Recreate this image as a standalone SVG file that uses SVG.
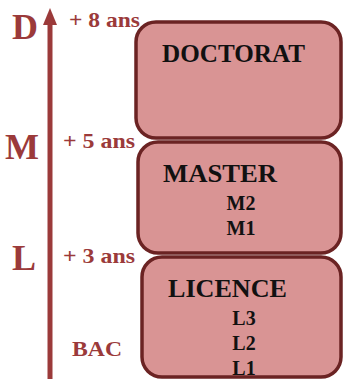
<svg xmlns="http://www.w3.org/2000/svg" width="345" height="379" viewBox="0 0 345 379">
<style>
.box{fill:#d99494;stroke:#6b2323;stroke-width:3.5}
.title{font-family:"Liberation Serif",serif;font-weight:bold;fill:#111;font-size:26px}
.sub{font-family:"Liberation Serif",serif;font-weight:bold;fill:#111;font-size:20px;text-anchor:middle}
.red{font-family:"Liberation Serif",serif;font-weight:bold;fill:#9b3a3a}
.big{font-size:36px}
.yr{font-size:22px}
</style>
<g id="axis">
<line x1="50" y1="379" x2="50" y2="22" stroke="#9b3a3a" stroke-width="5"/>
<polygon points="50,8 57,25 43,25" fill="#9b3a3a"/>
</g>
<g id="labels">
<text class="red big" x="12" y="39">D</text>
<text class="red big" x="5" y="159">M</text>
<text class="red big" x="12" y="270">L</text>
<text class="red yr" x="69" y="27" textLength="71" lengthAdjust="spacingAndGlyphs">+ 8 ans</text>
<text class="red yr" x="63" y="148" textLength="72" lengthAdjust="spacingAndGlyphs">+ 5 ans</text>
<text class="red yr" x="63" y="263" textLength="72" lengthAdjust="spacingAndGlyphs">+ 3 ans</text>
<text class="red yr" x="72" y="356" textLength="50" lengthAdjust="spacingAndGlyphs">BAC</text>
</g>
<g id="doctorat">
<rect class="box" x="136" y="22" width="205" height="116" rx="20"/>
<text class="title" x="162" y="62" textLength="143" lengthAdjust="spacingAndGlyphs">DOCTORAT</text>
</g>
<g id="master">
<rect class="box" x="138" y="142" width="203" height="111" rx="20"/>
<text class="title" x="163" y="182" textLength="114" lengthAdjust="spacingAndGlyphs">MASTER</text>
<text class="sub" x="241" y="210">M2</text>
<text class="sub" x="241" y="235">M1</text>
</g>
<g id="licence">
<rect class="box" x="142" y="257" width="199" height="120" rx="20"/>
<text class="title" x="168" y="297" textLength="119" lengthAdjust="spacingAndGlyphs">LICENCE</text>
<text class="sub" x="244" y="325">L3</text>
<text class="sub" x="244" y="350">L2</text>
<text class="sub" x="244" y="375">L1</text>
</g>
</svg>
